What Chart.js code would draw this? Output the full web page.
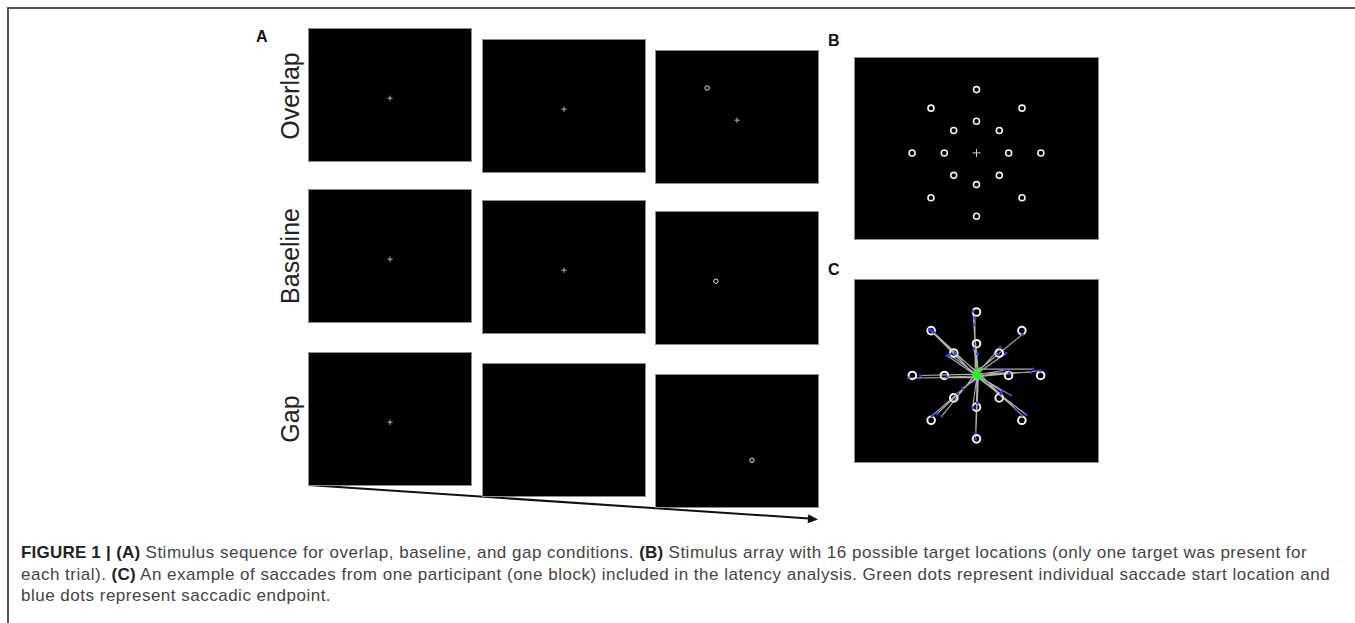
<!DOCTYPE html>
<html>
<head>
<meta charset="utf-8">
<script src="https://cdn.jsdelivr.net/npm/chart.js@4.4.0/dist/chart.umd.min.js"></script>
<style>
  html, body { margin: 0; padding: 0; background: #fff; }
  body { width: 1355px; height: 623px; position: relative; overflow: hidden;
         font-family: 'Liberation Sans', Arial, sans-serif; }
  .edge-top  { position: absolute; left: 7px; top: 7px; width: 1348px; height: 2px; background: #555; }
  .edge-left { position: absolute; left: 7px; top: 7px; width: 2px; height: 616px; background: #555; }
  .frame { position: absolute; background: #000; border: 1px solid #8c8c8c; box-sizing: border-box; }
  .tag { position: absolute; font-weight: bold; font-size: 16px; line-height: 16px; color: #111; }
  .cond { position: absolute; font-size: 25px; line-height: 25px; color: #222; white-space: nowrap;
          transform: translate(-50%, -50%) rotate(-90deg); }
  .caption { position: absolute; left: 21px; top: 542px; font-size: 17px; line-height: 21.5px;
             letter-spacing: 0.5px; color: #444; white-space: nowrap; }
  .caption b { color: #222; letter-spacing: 0.2px; }
  svg { position: absolute; left: 0; top: 0; }
</style>
</head>
<body>
<div class="edge-top"></div>
<div class="edge-left"></div>

<svg width="1355" height="623">
  <line x1="308" y1="485" x2="809" y2="518.5" stroke="#111" stroke-width="2"/>
  <polygon points="818,519.5 807.7,523.3 808.3,514.3" fill="#111"/>
</svg>

<div class="tag" style="left:256px;top:29px">A</div>
<div class="tag" style="left:828px;top:33px">B</div>
<div class="tag" style="left:828px;top:262px">C</div>

<div class="caption">
  <div><b>FIGURE 1 |</b> <b>(A)</b> Stimulus sequence for overlap, baseline, and gap conditions. <b>(B)</b> Stimulus array with 16 possible target locations (only one target was present for</div>
  <div>each trial). <b>(C)</b> An example of saccades from one participant (one block) included in the latency analysis. Green dots represent individual saccade start location and</div>
  <div>blue dots represent saccadic endpoint.</div>
</div>

<script>
// ── Panel A: trial sequence per condition ─────────
const conditions = ['Overlap', 'Baseline', 'Gap'];
const fixationOn = [[1, 1, 1], [1, 1, 0], [1, 0, 0]];
const targetOn = [[0, 0, 1], [0, 0, 1], [0, 0, 1]];
const trialTargetX = [-7.07, -5, 3.54];
const trialTargetY = [7.07, 0, -3.54];

// ── Panel B: 16 target locations (deg) ────────────
const targetX = [0, -7.07, 7.07, 0, -3.54, 3.54, -10, -5, 5, 10, -3.54, 3.54, 0, -7.07, 7.07, 0];
const targetY = [10, 7.07, 7.07, 5, 3.54, 3.54, 0, 0, 0, 0, -3.54, -3.54, -5, -7.07, -7.07, -10];

// ── Panel C: saccades of one block (deg) ──────────
const sacStartX = [0.1, -0.2, 0.3, -0.3, 0.0, 0.2, -0.1, 0.2, -0.4, 0.1, 0.0, 0.3, -0.2, 0.1, 0.6, 0.4, 0.2, -0.1, 0.0,
                   0.3, 0.64, 0.1, -0.2, 0.4, 0.2, 0.0, 1.0, -0.3, 0.2, 0.1, 0.3, 0.0, -0.1, 0.2, 0.5, -0.2, 0.3, 0.1];
const sacStartY = [0.2, 0.0, 0.4, 0.1, -0.2, 0.3, 0.5, 0.1, 0.0, -0.1, 0.2, 0.4, 0.0, 0.3, 1.0, -0.3, 0.2, -0.1, 0.1,
                   0.0, 1.0, -0.2, 0.3, 0.0, -0.4, 0.1, -0.5, 0.2, -0.3, 0.1, 0.0, -0.2, 0.3, -0.1, 0.2, 0.0, -0.3, 0.1];
const sacEndX = [-0.54, -0.25, -0.4, -7.35, -6.96, -6.67, 7.16, -0.4, 0.15, -4.56, -4.26, -3.3, 3.68, 4.6, 3.33, -10.6, -8.7, -4.6, 4.4,
                 5.1, 8.8, 9.95, 8.5, -2.94, -2.2, 4.0, 5.3, 3.8, 0.15, -0.6, -6.96, -6.1, -5.4, 6.2, 7.06, 7.75, -0.1, -0.15];
const sacEndY = [10.1, 9.0, 8.0, 7.25, 7.1, 6.8, 6.47, 4.26, 3.4, 3.1, 3.33, 3.4, 4.4, 3.5, 3.33, -0.4, 0.0, -0.25, 0.83,
                 0.4, 1.0, 0.74, 0.5, -2.84, -2.06, -2.55, -3.1, -2.9, -4.3, -5.05, -6.37, -6.0, -6.4, -5.4, -6.27, -6.2, -9.0, -10.05];

const screenX = [-18, 18];
const screenY = [-12.7, 14.1];

const frameOptions = () => ({
  responsive: true,
  maintainAspectRatio: false,
  animation: false,
  events: [],
  layout: { padding: 0 },
  plugins: { legend: { display: false }, tooltip: { enabled: false } },
  scales: {
    x: { type: 'linear', min: screenX[0], max: screenX[1], display: false },
    y: { type: 'linear', min: screenY[0], max: screenY[1], display: false },
  },
});

const makeFrame = (left, top, w, h) => {
  const box = document.createElement('div');
  box.className = 'frame';
  box.style.cssText = `left:${left}px;top:${top}px;width:${w}px;height:${h}px`;
  const cv = document.createElement('canvas');
  box.appendChild(cv);
  document.body.appendChild(box);
  return cv;
};

const toPoints = (xs, ys) => xs.map((x, i) => ({ x, y: ys[i] }));

// ── Panel A frames ────────────────────────────────
const colLeft = [308, 482, 655];
const rowTop = [28, 189, 352];
const labelY = [96, 256, 419];

conditions.forEach((cond, r) => {
  const lab = document.createElement('div');
  lab.className = 'cond';
  lab.textContent = cond;
  lab.style.left = '290px';
  lab.style.top = labelY[r] + 'px';
  document.body.appendChild(lab);

  colLeft.forEach((left, c) => {
    const cv = makeFrame(left, rowTop[r] + c * 11, 164, 134);
    new Chart(cv, {
      type: 'scatter',
      data: {
        datasets: [
          {
            data: targetOn[r][c] ? [{ x: trialTargetX[r], y: trialTargetY[r] }] : [],
            pointStyle: 'circle',
            pointRadius: 2.2,
            borderWidth: 1,
            borderColor: '#e6e6e6',
            backgroundColor: '#000',
          },
          {
            data: fixationOn[r][c] ? [{ x: 0, y: 0 }] : [],
            pointStyle: 'cross',
            pointRadius: 2.6,
            borderWidth: 1,
            borderColor: '#b8b8b8',
          },
        ],
      },
      options: frameOptions(),
    });
  });
});

// ── Panel B: target array ─────────────────────────
new Chart(makeFrame(854, 57, 245, 183), {
  type: 'scatter',
  data: {
    datasets: [
      {
        data: [{ x: 0, y: 0 }],
        pointStyle: 'cross',
        pointRadius: 4,
        borderWidth: 1,
        borderColor: '#cfcfcf',
      },
      {
        data: toPoints(targetX, targetY),
        pointStyle: 'circle',
        pointRadius: 3,
        borderWidth: 1.6,
        borderColor: '#f2f2f2',
        backgroundColor: '#000',
      },
    ],
  },
  options: frameOptions(),
});

// ── Panel C: saccades ─────────────────────────────
const sacPath = [];
sacStartX.forEach((sx, i) => {
  sacPath.push({ x: sx, y: sacStartY[i] }, { x: sacEndX[i], y: sacEndY[i] }, { x: null, y: null });
});

new Chart(makeFrame(854, 279, 245, 184), {
  type: 'scatter',
  data: {
    datasets: [
      {
        data: toPoints(sacEndX, sacEndY),
        pointRadius: 1.5,
        borderWidth: 0,
        backgroundColor: '#3a3aff',
      },
      {
        data: toPoints(sacStartX, sacStartY),
        pointRadius: 1.8,
        borderWidth: 0,
        backgroundColor: '#2bf02b',
      },
      {
        data: sacPath,
        showLine: true,
        spanGaps: false,
        pointRadius: 0,
        borderWidth: 1.1,
        borderColor: 'rgba(220,220,220,0.8)',
      },
      {
        data: toPoints(targetX, targetY),
        pointStyle: 'circle',
        pointRadius: 3.8,
        borderWidth: 2,
        borderColor: '#f4f4f4',
        backgroundColor: '#000',
      },
    ],
  },
  options: frameOptions(),
});
</script>
</body>
</html>
